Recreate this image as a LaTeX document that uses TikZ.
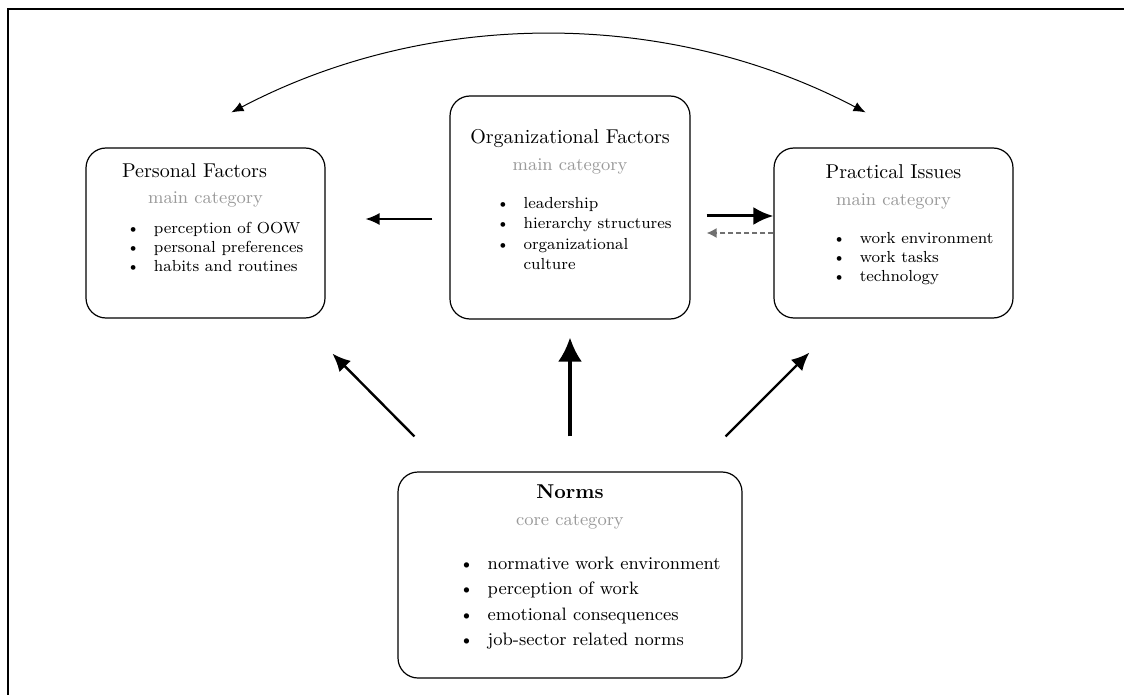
\documentclass[tikz,border=0pt]{standalone}
\usepackage{xcolor}
\usepackage{tikz}
\usetikzlibrary{arrows.meta, positioning, calc}
\definecolor{sub-gray}{HTML}{9A9A9A}
\definecolor{dash-gray}{HTML}{707070}

\begin{document}
\begin{tikzpicture}[
    x=0.5pt, y=-0.5pt,
    cat/.style={draw, semithick, rounded corners=10pt, align=center, inner sep=2pt},
    leftflow/.style={line width=0.75pt, -{Latex[length=7pt, width=6pt]}},
    sideflow/.style={line width=1.5pt, -{Latex[length=10pt, width=9pt]}},
    backflow/.style={dash-gray, line width=0.75pt, dash pattern=on 2.5pt off 1.5pt, -{Latex[length=5pt, width=5pt]}},
    upflow/.style={line width=1.6pt, -{Latex[length=12pt, width=12pt]}},
    normflow/.style={line width=1.2pt, -{Latex[length=9pt, width=8pt]}},
    bendflow/.style={line width=0.5pt, {Latex[length=6pt, width=5pt]}-{Latex[length=6pt, width=5pt]}}
]
    \useasboundingbox (0,0) rectangle (1124,695);
    \draw [semithick] (8,695) |- (1124,9);

    \node (personal) [cat, minimum width=119.5pt, minimum height=85pt] at (205.5,233) {
        Personal Factors\hspace*{11pt}\\[1pt]
        {\small\color{sub-gray}main category}\hspace*{11pt}\\[5.5pt]
        \hspace*{9.5pt}{\footnotesize\begin{tabular}{@{}l@{\hspace{7pt}}l@{}}
            \textbullet & perception of OOW\\
            \textbullet & personal preferences\\
            \textbullet & habits and routines\rule[-15pt]{0pt}{15pt}
        \end{tabular}}
    };
    \node (org) [cat, minimum width=120pt, minimum height=111.5pt] at (570,207.5) {
        Organizational Factors\\[1.5pt]
        {\small\color{sub-gray}main category}\\[9pt]
        \hspace*{14pt}{\footnotesize\renewcommand{\arraystretch}{1.08}\begin{tabular}{@{}l@{\hspace{7pt}}l@{}}
            \textbullet & leadership\\
            \textbullet & hierarchy structures\\
            \textbullet & organizational\\
                        & culture\rule[-8pt]{0pt}{8pt}
        \end{tabular}}
    };
    \node (practical) [cat, minimum width=119.5pt, minimum height=85pt] at (893.5,233) {
        Practical Issues\\[1.5pt]
        {\small\color{sub-gray}main category}\\[9.5pt]
        \hspace*{19.5pt}{\footnotesize\begin{tabular}{@{}l@{\hspace{7pt}}l@{}}
            \textbullet & work environment\\
            \textbullet & work tasks\\
            \textbullet & technology\rule[-10pt]{0pt}{10pt}
        \end{tabular}}
    };
    \node (norms) [cat, minimum width=172pt, minimum height=103pt] at (570,575) {
        \textbf{Norms}\\[1.5pt]
        {\small\color{sub-gray}core category}\\[10.5pt]
        \hspace*{20pt}{\small\renewcommand{\arraystretch}{1.15}\begin{tabular}{@{}l@{\hspace{7pt}}l@{}}
            \textbullet & normative work environment\\
            \textbullet & perception of work\\
            \textbullet & emotional consequences\\
            \textbullet & job-sector related norms\rule[-10pt]{0pt}{10pt}
        \end{tabular}}
    };

    % links between the main categories
    \draw [leftflow, shorten <=8.5pt, shorten >=20pt] ([yshift=-5.75pt]org.west) -- ([yshift=7pt]personal.east);
    \draw [sideflow, shorten <=8pt] ([yshift=-4.25pt]org.east) -- ([yshift=8.5pt]practical.west);
    \draw [backflow, shorten >=8pt] (practical.west) -- ([yshift=-12.75pt]org.east);

    % core category feeds all three
    \draw [normflow] ([xshift=8.5pt, yshift=17.5pt]norms.north west) -- ([xshift=123.5pt, yshift=-17.5pt]personal.south west);
    \draw [upflow, shorten <=17.5pt, shorten >=9pt] (norms.north) -- (org.south);
    \draw [normflow] ([xshift=-8.5pt, yshift=17.5pt]norms.north east) -- ([xshift=18pt, yshift=-17pt]practical.south west);

    \coordinate (pftop) at ([xshift=13pt, yshift=17.5pt]personal.north);
    \coordinate (pitop) at ([xshift=-14pt, yshift=17.5pt]practical.north);
    \draw [bendflow] (pftop) .. controls +(198,-104) and +(-198,-104) .. (pitop);
\end{tikzpicture}
\end{document}
